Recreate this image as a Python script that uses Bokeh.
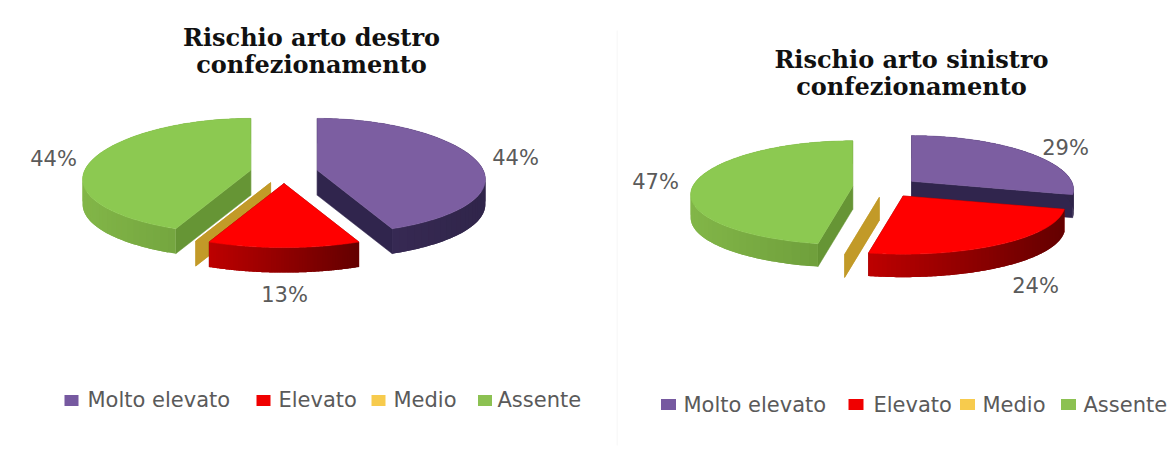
import numpy as np
from bokeh.core.properties import value
from bokeh.embed import file_html
from bokeh.layouts import row
from bokeh.plotting import figure
from bokeh.resources import INLINE

# Chart data
categories = ["Molto elevato", "Elevato", "Medio", "Assente"]
destro_values = [44, 13, 0, 44]
sinistro_values = [29, 24, 0, 47]
destro_title = ["Rischio arto destro", "confezionamento"]
sinistro_title = ["Rischio arto sinistro", "confezionamento"]

# Slice colours: top face, cut wall, rim at the left end, rim at the right end
TOP = ["#7C5EA1", "#FF0000", "#CFA52C", "#8CC951"]
WALL = ["#30254D", "#7E0000", "#C29A28", "#669535"]
RIM_L = ["#3C2D5B", "#BE0000", "#C29A28", "#82B648"]
RIM_R = ["#30254A", "#640000", "#C29A28", "#6B9A39"]
SWATCH = ["#7659A0", "#F00000", "#F7CB4D", "#8CC152"]
TEXT = "#5A5A5A"


def mix(a, b, t):
    ca = [int(a[i:i + 2], 16) for i in (1, 3, 5)]
    cb = [int(b[i:i + 2], 16) for i in (1, 3, 5)]
    return "#%02x%02x%02x" % tuple(round(u + (v - u) * t) for u, v in zip(ca, cb))


def exploded_pie(p, values, geo, paint_order):
    """Draw an exploded 3D pie: angles run clockwise from twelve o'clock."""
    total = sum(values)
    edges = np.cumsum([0] + list(values)) / total * 2 * np.pi

    def project(theta, apex):
        X, Y = np.sin(theta), np.cos(theta)
        return (apex[0] + geo["R"] * X * (1 - geo["kx"] * Y),
                apex[1] - geo["r"] * Y * (1 - geo["ky"] * Y))

    for i in paint_order:
        a0, a1 = edges[i], edges[i + 1]
        mid = (a0 + a1) / 2
        apex = (geo["cx"] + geo["ex"] * np.sin(mid), geo["cy"] - geo["ey"] * np.cos(mid))
        d = geo["depth"]

        # Cut walls at both ends of the slice
        for ang in (a0, a1):
            ex_, ey_ = project(ang, apex)
            p.patch([apex[0], ex_, ex_, apex[0]], [apex[1], ey_, ey_ + d, apex[1] + d],
                    fill_color=WALL[i], line_color=WALL[i], line_width=0.5)

        if a1 <= a0:
            continue

        # Outer rim, shaded in overlapping bands so that no seams show
        th = np.linspace(a0, a1, 121)
        xs, ys = project(th, apex)
        span = max(xs.max() - xs.min(), 1)
        for j in range(0, len(th) - 1, 2):
            bx, by = xs[j:j + 5], ys[j:j + 5]
            col = mix(RIM_L[i], RIM_R[i], (bx[0] - xs.min()) / span)
            p.patch([*bx, *bx[::-1]], [*by, *(by[::-1] + d)], fill_color=col, line_color=None)

        # Top face
        p.patch([apex[0], *xs], [apex[1], *ys], fill_color=TOP[i], line_color=TOP[i], line_width=0.5)


def add_texts(p, xs, ys, labels, size, align="center", bold=False, font="DejaVu Sans", color=TEXT):
    p.text(xs, ys, text=labels, text_font=value(font), text_font_size=size,
           text_font_style="bold" if bold else "normal",
           text_align=align, text_baseline="middle", text_color=color)


def panel(width, x0, x1):
    p = figure(width=width, height=450, x_range=(x0, x1), y_range=(450, 0),
               output_backend="svg", toolbar_location=None, min_border=0,
               outline_line_color=None, background_fill_color="white",
               border_fill_color="white")
    p.xaxis.visible = False
    p.yaxis.visible = False
    p.grid.visible = False
    return p


# Left chart
left = panel(616, 0, 616)
exploded_pie(left, destro_values,
             dict(cx=283.5, cy=172, ex=34, ey=11, R=166, r=58, kx=0.16, ky=0.105, depth=25),
             paint_order=[0, 3, 2, 1])
add_texts(left, [311, 311], [37, 64], destro_title, "24px", bold=True, font="DejaVu Serif", color="#111111")
add_texts(left, [53, 515, 284], [158, 157, 294],
          [f"{destro_values[3]}%", f"{destro_values[0]}%", f"{destro_values[1]}%"], "21px")
left.rect([71, 263, 378, 484.5], [400] * 4, width=14, height=11, fill_color=SWATCH, line_color=None)
add_texts(left, [87, 278, 393, 497], [399] * 4, categories, "21px", align="left")

# Right chart
right = panel(552, 616, 1168)
exploded_pie(right, sinistro_values,
             dict(cx=885, cy=187, ex=33, ey=10, R=160, r=52, kx=0.16, ky=0.12, depth=23),
             paint_order=[0, 3, 2, 1])
add_texts(right, [911, 911], [59, 86], sinistro_title, "24px", bold=True, font="DejaVu Serif", color="#111111")
add_texts(right, [1065, 1035, 655], [147, 285, 181],
          [f"{sinistro_values[0]}%", f"{sinistro_values[1]}%", f"{sinistro_values[3]}%"], "21px")
right.rect([668, 855.5, 967, 1068], [404] * 4, width=15, height=11, fill_color=SWATCH, line_color=None)
add_texts(right, [683, 873, 982, 1083], [404] * 4, categories, "21px", align="left")
right.line([616.5, 616.5], [30, 445], line_color="#F3F3F3", line_width=1)

layout = row(left, right, spacing=0)
open("out.html", "w").write(file_html(layout, INLINE))
